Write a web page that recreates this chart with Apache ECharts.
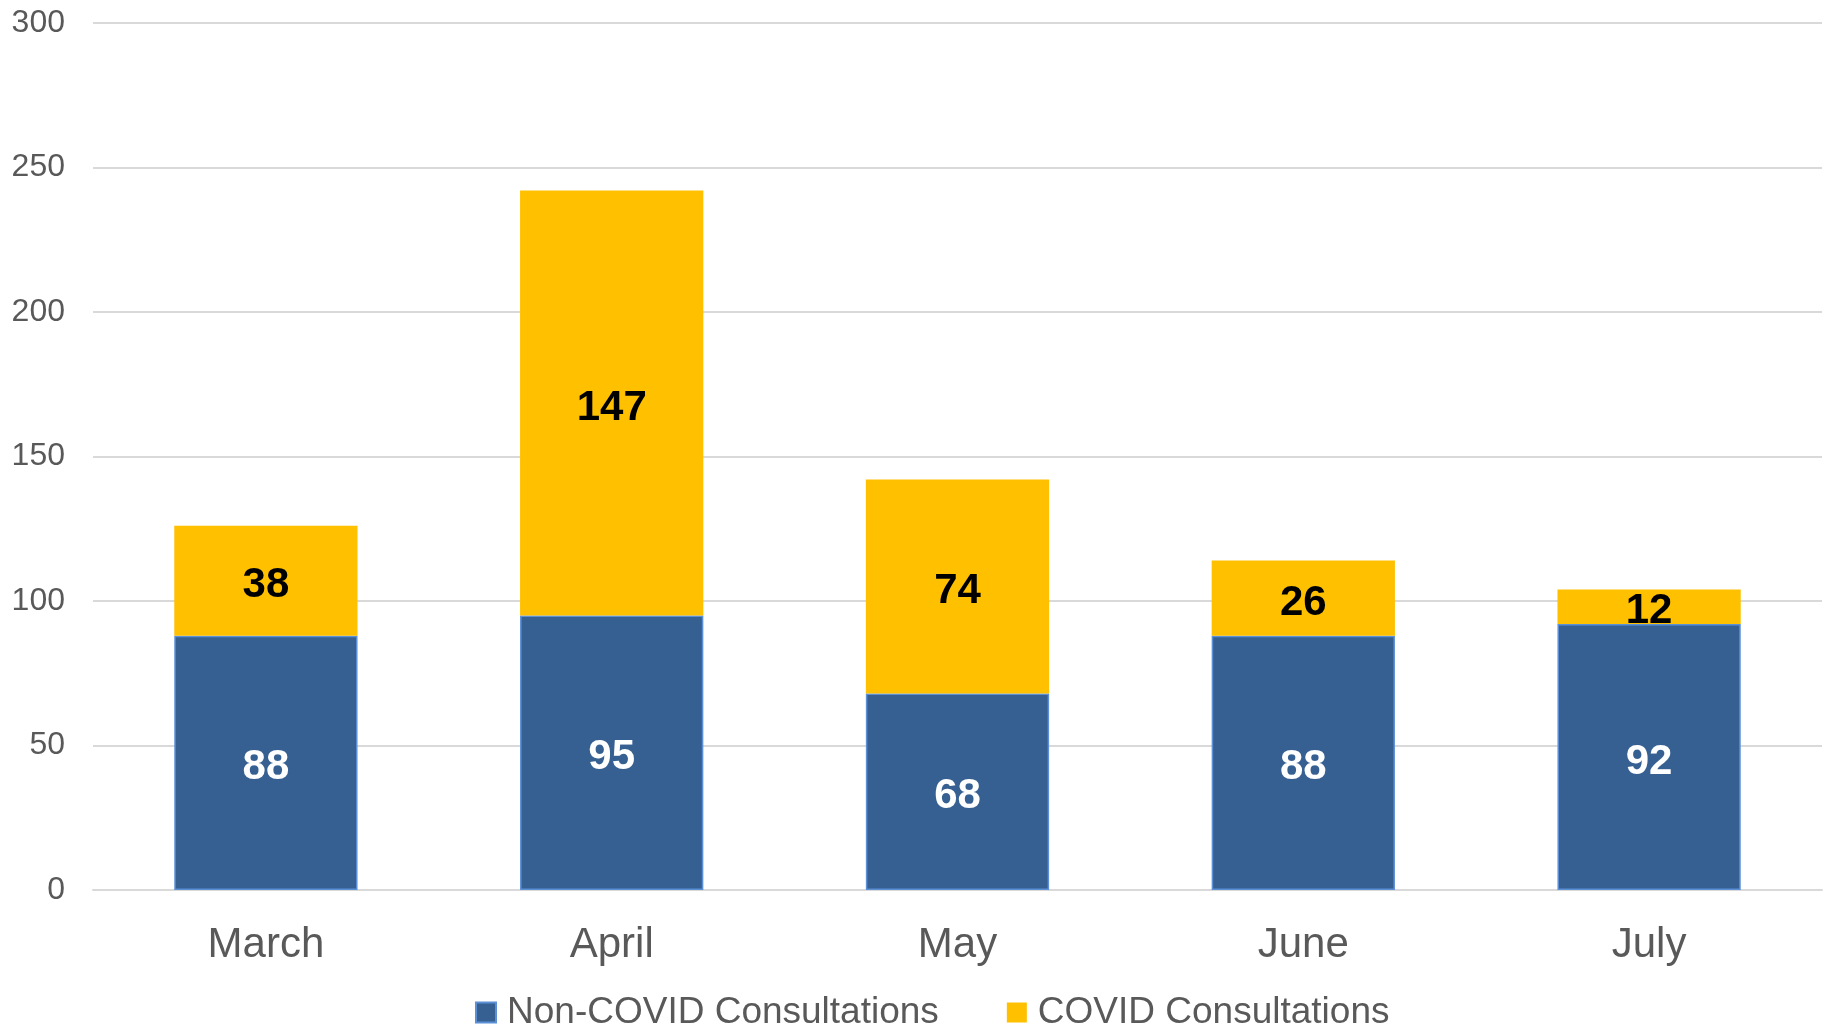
<!DOCTYPE html>
<html>
<head>
<meta charset="utf-8">
<title>Consultations</title>
<script src="https://cdn.jsdelivr.net/npm/echarts@6/dist/echarts.min.js"></script>
<style>
  html, body { margin: 0; padding: 0; background: #fff; }
  #chart { width: 1841px; height: 1028px; }
</style>
</head>
<body>
<div id="chart"></div>
<script>
// 月份
var months = ['March', 'April', 'May', 'June', 'July'];
// 非新冠咨询
var nonCovid = [88, 95, 68, 88, 92];
// 新冠咨询
var covid = [38, 147, 74, 26, 12];
// y轴刻度
var yTicks = [0, 50, 100, 150, 200, 250, 300];

var FONT = '"Liberation Sans", Arial, sans-serif';

var myChart = echarts.init(document.getElementById('chart'));
var option = {
    animation: false,
    textStyle: { fontFamily: FONT },
    grid: { left: 93, right: 19, top: 23, bottom: 138 },
    legend: {
        bottom: -8,
        left: 470,
        itemWidth: 20,
        itemHeight: 20,
        itemGap: 68,
        icon: 'rect',
        textStyle: { fontSize: 37, color: '#595959', fontFamily: FONT, padding: [0, 0, 0, 6] },
        data: ['Non-COVID Consultations', 'COVID Consultations']
    },
    xAxis: {
        type: 'category',
        data: months,
        axisLine: { show: true, lineStyle: { color: '#d9d9d9', width: 2 } },
        axisTick: { show: false },
        axisLabel: { fontSize: 42, color: '#595959', margin: 34, fontFamily: FONT }
    },
    yAxis: {
        type: 'value',
        min: yTicks[0],
        max: yTicks[yTicks.length - 1],
        interval: 50,
        axisLine: { show: false },
        axisTick: { show: false },
        splitLine: { lineStyle: { color: '#d9d9d9', width: 2 } },
        axisLabel: { fontSize: 32, color: '#595959', margin: 28, fontFamily: FONT, padding: [4, 0, 0, 0] }
    },
    series: [
        {
            name: 'Non-COVID Consultations',
            type: 'bar',
            stack: 'total',
            barWidth: '53%',
            data: nonCovid,
            itemStyle: { color: '#366092', borderColor: '#5b8fd6', borderWidth: 1.5 },
            label: {
                show: true,
                position: 'inside',
                offset: [0, 5],
                color: '#ffffff',
                fontWeight: 'bold',
                fontSize: 42,
                fontFamily: FONT
            }
        },
        {
            name: 'COVID Consultations',
            type: 'bar',
            stack: 'total',
            barWidth: '53%',
            data: covid,
            itemStyle: { color: '#ffc000' },
            label: {
                show: true,
                position: 'inside',
                offset: [0, 5],
                color: '#000000',
                fontWeight: 'bold',
                fontSize: 42,
                fontFamily: FONT
            }
        }
    ]
};
myChart.setOption(option);
</script>
</body>
</html>
